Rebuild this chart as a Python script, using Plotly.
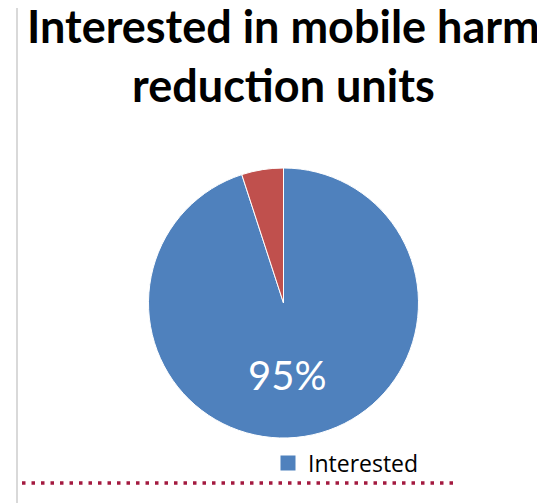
import plotly.graph_objects as go

title_text = "Interested in mobile harm<br>reduc\u200ction units"
labels = ["Interested", "Not interested"]
values = [95, 5]
slice_text = ["95%", ""]
colors = ["#4F81BD", "#C0504D"]

# page body has an 8px margin: figure coordinates = screen - 8
OFF = 8
W, H = 545 - OFF, 503 - OFF

def px(x):
    return (x - OFF) / W

def py(y):
    return 1 - (y - OFF) / H

fig = go.Figure()
fig.add_trace(go.Pie(
    labels=labels, values=values,
    textinfo="none",
    marker=dict(colors=colors, line=dict(color="white", width=1)),
    sort=False, direction="clockwise", rotation=0,
    domain=dict(x=[px(148), px(419)], y=[py(438), py(168)]),
    showlegend=False, hoverinfo="label+percent",
))
# legend entry for the first category only (as in the reference)
fig.add_trace(go.Scatter(
    x=[None], y=[None], mode="markers", name=labels[0],
    marker=dict(symbol="square", size=15, color=colors[0]),
    showlegend=True,
))

fig.update_layout(
    width=W, height=H,
    margin=dict(l=0, r=0, t=0, b=0),
    paper_bgcolor="white", plot_bgcolor="white",
    xaxis=dict(visible=False), yaxis=dict(visible=False),
    annotations=[
        dict(text=title_text, xref="paper", yref="paper", x=px(283), y=py(-3),
             xanchor="center", yanchor="top", showarrow=False,
             font=dict(family="Lato", size=45, color="black", weight="bold")),
        dict(text=slice_text[0], xref="paper", yref="paper", x=px(286.5), y=py(375),
             xanchor="center", yanchor="middle", showarrow=False,
             font=dict(family="Lato", size=40, color="white")),
    ],
    legend=dict(x=px(268), y=py(463), xanchor="left", yanchor="middle",
                font=dict(family="Open Sans", size=23, color="black"),
                bgcolor="rgba(0,0,0,0)"),
    shapes=[
        dict(type="line", xref="paper", yref="paper", x0=px(17), x1=px(17), y0=0, y1=1.05,
             line=dict(color="#D9D9D9", width=2)),
        dict(type="line", xref="paper", yref="paper", x0=px(22), x1=px(455), y0=py(483), y1=py(483),
             line=dict(color="#A3193F", width=3.5, dash="3.5px,6px")),
    ],
)

fig.write_html("out.html")
